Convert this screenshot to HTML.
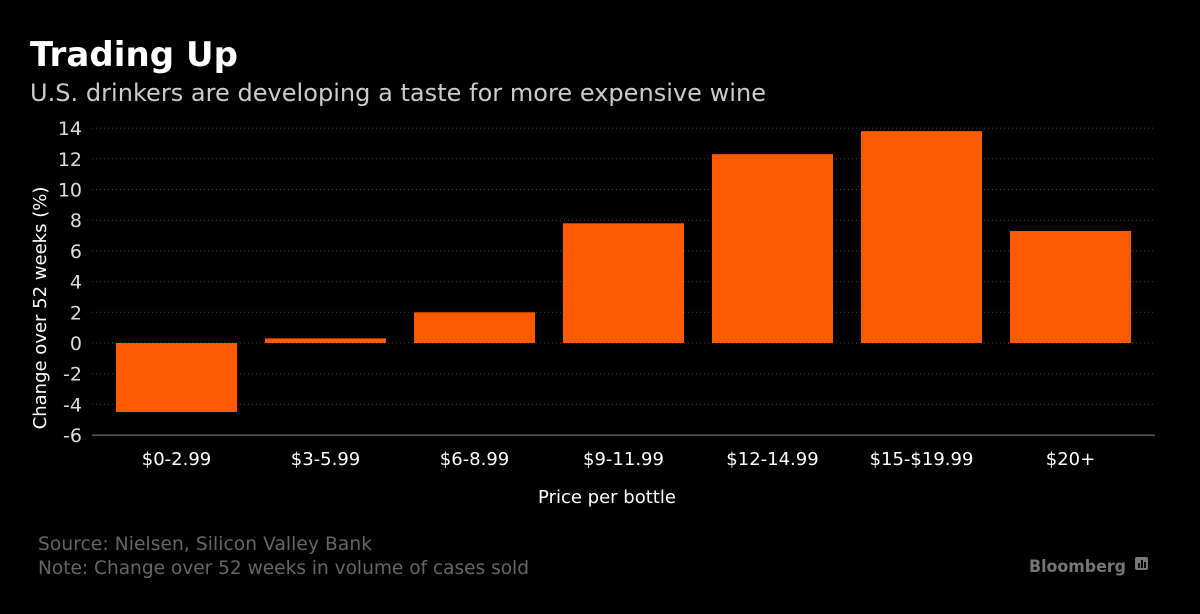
<!DOCTYPE html>
<html><head><meta charset="utf-8"><style>
body{margin:0;background:#000;width:1200px;height:610px;overflow:hidden;font-family:"DejaVu Sans","Liberation Sans",sans-serif;}
</style></head><body>
<svg width="1200" height="610" font-family="DejaVu Sans, Liberation Sans, sans-serif">
<text x="30" y="66" fill="#fff" font-size="34" font-weight="bold" textLength="208">Trading Up</text>
<text x="30" y="101" fill="#ccc" font-size="24" textLength="736">U.S. drinkers are developing a taste for more expensive wine</text>
<g id="grid"></g>
<g id="bars"></g>
<g id="yt"></g>
<g id="xt"></g>
<text transform="translate(46,308) rotate(-90)" text-anchor="middle" fill="#fff" font-size="18">Change over 52 weeks (%)</text>
<text x="607" y="503" text-anchor="middle" fill="#fff" font-size="18">Price per bottle</text>
<text x="38" y="550" fill="#666" font-size="18.6" textLength="334">Source: Nielsen, Silicon Valley Bank</text>
<text x="38" y="574" fill="#666" font-size="18.6" textLength="491">Note: Change over 52 weeks in volume of cases sold</text>
<text x="1029" y="572" fill="#777" font-size="17" font-weight="bold" textLength="97" lengthAdjust="spacingAndGlyphs">Bloomberg</text>
<g><rect x="1135" y="557" width="13" height="13" rx="2" fill="#777"/><rect x="1138" y="563" width="2" height="5" fill="#000"/><rect x="1141" y="560" width="2" height="8" fill="#000"/><rect x="1144" y="562" width="2" height="6" fill="#000"/></g>
</svg>
<script>
const categories=["$0-2.99","$3-5.99","$6-8.99","$9-11.99","$12-14.99","$15-$19.99","$20+"];
const values=[-4.5,0.3,2.0,7.8,12.3,13.8,7.3];
const yTicks=[14,12,10,8,6,4,2,0,-2,-4,-6];
const NS="http://www.w3.org/2000/svg";
const y=v=>343-v*15.35;
const x0=102,step=149,bw=121;
const xc=i=>x0+step*i+step/2;
function mk(t,a,p){const e=document.createElementNS(NS,t);for(const k in a)e.setAttribute(k,a[k]);document.getElementById(p).appendChild(e);return e;}
yTicks.forEach(v=>{
 const g=mk('line',{x1:92,x2:1155,y1:y(v),y2:y(v),stroke:v===-6?'#888':'#444','stroke-dasharray':v===-6?'':'1,3'},'grid');
 
 
 const t=mk('text',{x:82,y:y(v)+7,'text-anchor':'end',fill:'#ddd','font-size':19},'yt');
 t.textContent=v;
 
 
});
categories.forEach((c,i)=>{
 const v=values[i];
 const r=mk('rect',{x:xc(i)-bw/2,y:Math.min(y(v),y(0)),width:bw,height:Math.abs(y(v)-y(0)),fill:'#ff5a00'},'bars');
 
 
 const t=mk('text',{x:xc(i),y:465,'text-anchor':'middle',fill:'#fff','font-size':18},'xt');
 t.textContent=c;
 
 
});
</script>
</body></html>
